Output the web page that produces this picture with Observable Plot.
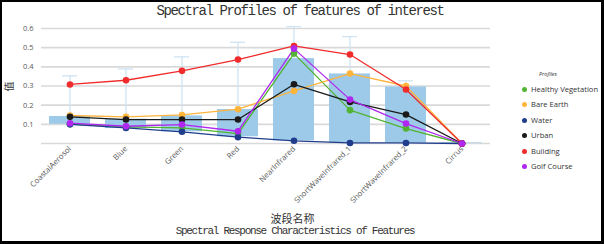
<!DOCTYPE html>
<html>
<head>
<meta charset="utf-8">
<script src="https://cdn.jsdelivr.net/npm/d3@7"></script>
<script src="https://cdn.jsdelivr.net/npm/@observablehq/plot@0.6"></script>
<style>
  html, body { margin: 0; padding: 0; background: #fff; }
  body { width: 604px; height: 244px; position: relative; overflow: hidden; }
  #chart { position: absolute; left: 0; top: 0; }
  .frame { position: absolute; left: 0; top: 0; width: 604px; height: 244px; box-sizing: border-box;
           border-left: 2px solid #000; border-top: 2px solid #000; border-right: 3px solid #000; border-bottom: 3px solid #000; pointer-events: none; }
  .title { position: absolute; left: 0; width: 600px; top: 3px; text-align: center; font-family: "Liberation Mono", monospace;
           font-size: 14px; letter-spacing: -1.4px; color: #333; }
  .caption { position: absolute; left: 0; width: 590px; top: 225px; text-align: center; font-family: "Liberation Mono", monospace;
           font-size: 11px; letter-spacing: -1.3px; color: #333; }
  .xlabel { position: absolute; left: 0; width: 585px; top: 210px; text-align: center; font-family: "Noto Sans CJK SC", sans-serif;
           font-size: 11px; color: #333; }
  .ylabel { position: absolute; left: 3px; top: 79px; font-family: "Noto Sans CJK SC", sans-serif; font-size: 10px; color: #333;
           transform: rotate(-90deg); }
  .legend { position: absolute; left: 522px; top: 70px; font-family: "Open Sans", sans-serif; font-size: 7.6px; color: #333; }
  .legend .lt { font-style: italic; font-size: 5.5px; margin-left: 17px; height: 14px; }
  .legend .it { height: 15.4px; line-height: 10px; white-space: nowrap; }
  .legend .sw { display: inline-block; width: 5px; height: 5px; border-radius: 50%; margin-right: 4px; vertical-align: 0px; }
</style>
</head>
<body>
<div id="chart"></div>
<div class="title">Spectral Profiles of features of interest</div>
<div class="ylabel">值</div>
<div class="xlabel">波段名称</div>
<div class="caption">Spectral Response Characteristics of Features</div>
<div class="legend" id="legend"></div>
<div class="frame"></div>
<script>
const categories = ["CoastalAerosol","Blue","Green","Red","NearInfrared","ShortWaveInfrared_1","ShortWaveInfrared_2","Cirrus"];
const barLow  = [0.100, 0.078, 0.061, 0.035, 0.014, 0.003, 0.003, 0.000];
const barHigh = [0.141, 0.127, 0.144, 0.177, 0.443, 0.363, 0.295, 0.003];
const errTop  = [0.353, 0.389, 0.452, 0.528, 0.610, 0.558, 0.327, null];
const yTicks = [0.1, 0.2, 0.3, 0.4, 0.5, 0.6];

const seriesNames = ["Healthy Vegetation","Bare Earth","Water","Urban","Building","Golf Course"];
const seriesColors = ["#52b432","#ffb43c","#1f3d8c","#1a1a1a","#ef2b2b","#b027ef"];
const healthyVegetation = [0.101, 0.087, 0.082, 0.052, 0.469, 0.174, 0.078, 0];
const bareEarth         = [0.146, 0.139, 0.149, 0.179, 0.274, 0.365, 0.300, 0];
const water             = [0.100, 0.081, 0.061, 0.033, 0.014, 0.003, 0.003, 0];
const urban             = [0.139, 0.125, 0.125, 0.125, 0.309, 0.217, 0.151, 0];
const building          = [0.308, 0.330, 0.379, 0.438, 0.509, 0.464, 0.282, 0];
const golfCourse        = [0.106, 0.090, 0.099, 0.064, 0.495, 0.229, 0.104, 0];
const seriesValues = [healthyVegetation, bareEarth, water, urban, building, golfCourse];

const bars = categories.map((c, i) => ({cat: c, low: barLow[i], high: barHigh[i], err: errTop[i]}));
const errs = bars.filter(d => d.err != null);
const points = seriesNames.flatMap((s, k) => categories.map((c, i) => ({series: s, cat: c, value: seriesValues[k][i]})));

const plot = Plot.plot({
  width: 604,
  height: 244,
  marginLeft: 41,
  marginRight: 114,
  marginTop: 28,
  marginBottom: 101,
  style: {fontFamily: "'Open Sans', sans-serif", background: "transparent"},
  x: {domain: categories, paddingInner: 0.26, paddingOuter: 0.13},
  y: {domain: [0, 0.6]},
  color: {domain: seriesNames, range: seriesColors},
  marks: [
    Plot.ruleY([0, ...yTicks], {stroke: "#d9d9d9", strokeWidth: 1.6}),
    Plot.ruleX(errs, {x: "cat", y1: "high", y2: "err", stroke: "#cfe3f3", strokeWidth: 1.3}),
    Plot.tickY(errs, {x: "cat", y: "err", stroke: "#cfe3f3", strokeWidth: 1.3, insetLeft: 13, insetRight: 13}),
    Plot.barY(bars, {x: "cat", y1: "low", y2: "high", fill: "#9ccae8"}),
    Plot.line(points, {x: "cat", y: "value", z: "series", stroke: "series", strokeWidth: 1.3}),
    Plot.dot(points, {x: "cat", y: "value", fill: "series", r: 3.3}),
    Plot.axisY({ticks: yTicks, tickSize: 0, tickPadding: 8, tickFormat: d => d.toFixed(1), fontSize: 7.5, color: "#595959", label: null}),
    Plot.axisX({tickSize: 0, tickPadding: 4, tickRotate: -45, fontSize: 7.8, color: "#595959", label: null})
  ]
});
document.getElementById("chart").appendChild(plot);

const legend = document.getElementById("legend");
legend.innerHTML = '<div class="lt">Profiles</div>' + seriesNames.map((s, i) =>
  `<div class="it"><span class="sw" style="background:${seriesColors[i]}"></span>${s}</div>`).join("");
</script>
</body>
</html>
